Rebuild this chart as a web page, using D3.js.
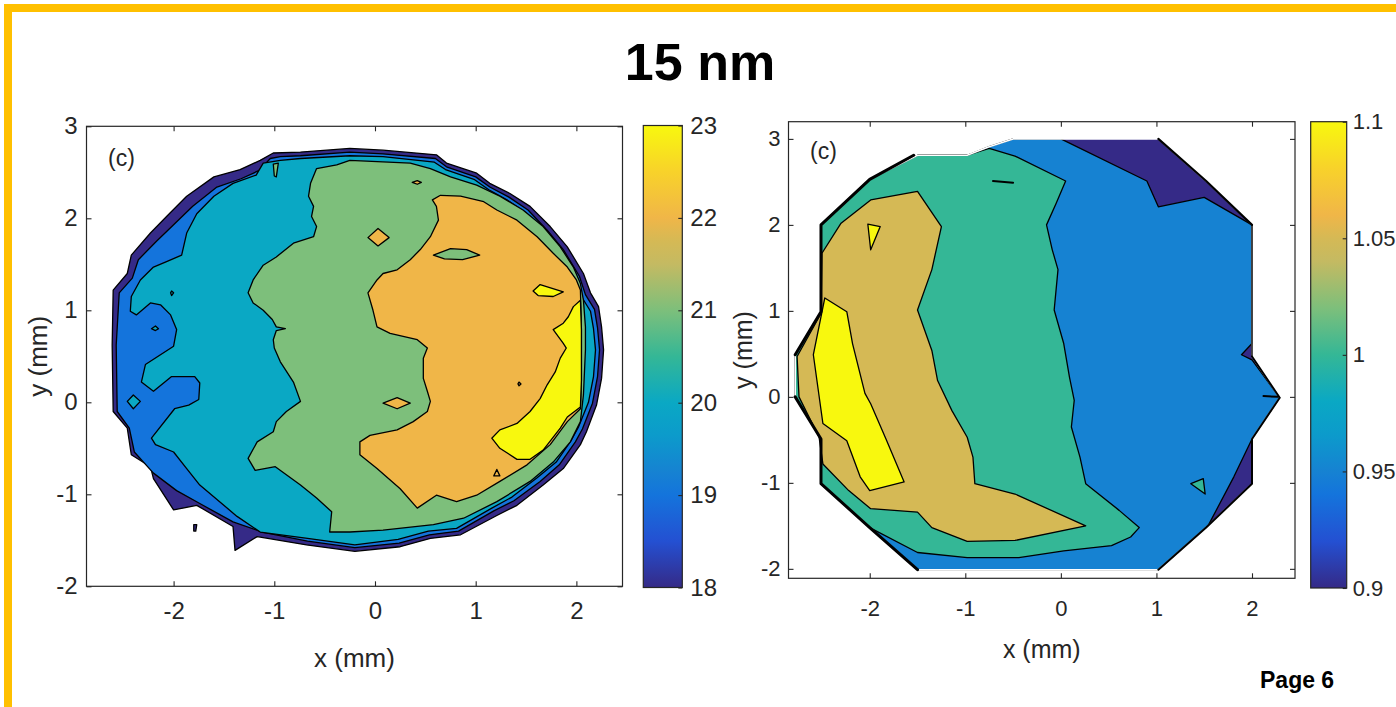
<!DOCTYPE html>
<html>
<head>
<meta charset="utf-8">
<script src="https://cdn.jsdelivr.net/npm/d3@7"></script>
<style>
  html, body { margin: 0; padding: 0; background: #ffffff; }
  svg { display: block; }
</style>
</head>
<body>
<svg id="chart" width="1396" height="707"></svg>
<script>
// ---------- tick values ----------
const xTicksLeft = [-2, -1, 0, 1, 2];
const yTicksLeft = [-2, -1, 0, 1, 2, 3];
const cTicksLeft = [18, 19, 20, 21, 22, 23];
const xTicksRight = [-2, -1, 0, 1, 2];
const yTicksRight = [-2, -1, 0, 1, 2, 3];
const cTicksRight = [0.9, 0.95, 1, 1.05, 1.1];

// ---------- left map: filled contour regions (x, y in mm), outermost first ----------
const left18 = [[-2.61,0.62],[-2.60,1.22],[-2.46,1.40],[-2.42,1.60],[-2.23,1.84],[-2.07,2.02],[-1.87,2.24],[-1.60,2.45],[-1.34,2.53],[-1.14,2.63],[-1.01,2.71],[-0.74,2.72],[-0.25,2.76],[0.08,2.74],[0.61,2.69],[0.71,2.60],[1.01,2.49],[1.14,2.38],[1.34,2.27],[1.54,2.13],[1.74,1.91],[1.91,1.69],[2.07,1.40],[2.14,1.19],[2.22,1.04],[2.25,0.82],[2.27,0.57],[2.25,0.26],[2.20,-0.03],[2.10,-0.32],[2.04,-0.46],[1.87,-0.72],[1.67,-0.90],[1.41,-1.12],[1.21,-1.23],[0.85,-1.44],[0.55,-1.48],[0.25,-1.57],[-0.20,-1.62],[-0.68,-1.55],[-1.17,-1.46],[-1.39,-1.61],[-1.41,-1.35],[-1.77,-1.12],[-2.00,-1.17],[-2.20,-0.83],[-2.23,-0.70],[-2.42,-0.57],[-2.46,-0.28],[-2.60,-0.10]];
const left19 = [[-2.57,0.62],[-2.54,1.19],[-2.41,1.35],[-2.35,1.55],[-2.17,1.75],[-2.00,1.93],[-1.81,2.13],[-1.57,2.34],[-1.33,2.43],[-1.15,2.52],[-1.04,2.65],[-0.94,2.67],[-0.74,2.68],[-0.25,2.72],[0.08,2.70],[0.60,2.65],[0.71,2.56],[1.00,2.45],[1.14,2.34],[1.33,2.23],[1.52,2.09],[1.71,1.87],[1.87,1.66],[2.03,1.37],[2.09,1.17],[2.18,1.01],[2.21,0.81],[2.23,0.57],[2.21,0.28],[2.16,-0.01],[2.06,-0.29],[1.99,-0.43],[1.83,-0.68],[1.64,-0.86],[1.38,-1.07],[1.18,-1.18],[0.83,-1.40],[0.54,-1.44],[0.24,-1.53],[-0.20,-1.58],[-0.67,-1.51],[-1.12,-1.41],[-1.41,-1.30],[-1.74,-1.10],[-1.97,-0.96],[-2.20,-0.77],[-2.39,-0.54],[-2.44,-0.28],[-2.56,-0.10]];
const left20 = [[-1.11,2.60],[-0.94,2.63],[-0.74,2.65],[-0.25,2.68],[0.08,2.67],[0.59,2.61],[0.70,2.53],[0.99,2.42],[1.13,2.31],[1.31,2.20],[1.50,2.06],[1.68,1.84],[1.84,1.62],[1.99,1.34],[2.05,1.15],[2.14,0.99],[2.17,0.80],[2.19,0.57],[2.17,0.28],[2.12,0.00],[2.02,-0.27],[1.95,-0.41],[1.80,-0.65],[1.61,-0.82],[1.36,-1.03],[1.16,-1.15],[0.81,-1.37],[0.53,-1.40],[0.23,-1.49],[-0.20,-1.55],[-0.67,-1.48],[-1.14,-1.41],[-1.37,-1.24],[-1.74,-0.90],[-1.87,-0.72],[-2.00,-0.54],[-2.18,-0.46],[-2.22,-0.39],[-1.99,-0.07],[-1.85,-0.03],[-1.75,0.03],[-1.74,0.21],[-1.79,0.28],[-2.02,0.28],[-2.20,0.12],[-2.32,0.22],[-2.28,0.41],[-2.00,0.61],[-1.97,0.79],[-2.03,0.95],[-2.13,1.06],[-2.23,1.08],[-2.37,0.95],[-2.43,0.99],[-2.42,1.15],[-2.33,1.33],[-2.20,1.47],[-2.07,1.53],[-1.92,1.60],[-1.87,1.84],[-1.77,2.05],[-1.60,2.24],[-1.41,2.38],[-1.18,2.47]];
const left21 = [[-0.58,2.54],[-0.38,2.58],[-0.25,2.63],[0.35,2.60],[0.55,2.54],[0.75,2.45],[1.01,2.36],[1.24,2.24],[1.47,2.09],[1.67,1.91],[1.84,1.69],[1.97,1.47],[2.04,1.29],[2.07,1.11],[2.09,0.82],[2.09,0.57],[2.07,0.08],[2.04,-0.21],[1.94,-0.43],[1.77,-0.65],[1.54,-0.86],[1.21,-1.08],[0.88,-1.26],[0.58,-1.33],[0.08,-1.39],[-0.25,-1.41],[-0.45,-1.41],[-0.43,-1.19],[-0.58,-1.04],[-0.74,-0.90],[-0.99,-0.70],[-1.19,-0.74],[-1.26,-0.61],[-1.17,-0.43],[-1.01,-0.32],[-0.98,-0.21],[-0.88,-0.10],[-0.74,0.01],[-0.81,0.22],[-0.94,0.44],[-1.00,0.59],[-1.01,0.68],[-0.98,0.78],[-0.89,0.80],[-0.98,0.82],[-1.02,0.90],[-1.11,1.00],[-1.21,1.08],[-1.26,1.19],[-1.21,1.33],[-1.11,1.49],[-0.98,1.58],[-0.81,1.73],[-0.61,1.80],[-0.58,1.91],[-0.63,2.02],[-0.61,2.13],[-0.66,2.24],[-0.64,2.38]];
const left22 = [[0.57,2.20],[0.65,2.25],[0.85,2.24],[1.08,2.18],[1.21,2.09],[1.41,1.98],[1.61,1.80],[1.77,1.62],[1.91,1.47],[2.00,1.33],[2.04,1.22],[2.05,0.79],[2.05,0.24],[2.04,-0.07],[1.91,-0.21],[1.74,-0.46],[1.51,-0.68],[1.24,-0.86],[1.01,-1.01],[0.81,-1.08],[0.61,-1.01],[0.42,-1.15],[0.25,-0.94],[0.02,-0.72],[-0.15,-0.57],[-0.15,-0.43],[-0.05,-0.36],[0.22,-0.30],[0.38,-0.21],[0.52,-0.10],[0.55,0.01],[0.52,0.12],[0.48,0.26],[0.48,0.48],[0.52,0.59],[0.42,0.68],[0.15,0.75],[0.02,0.82],[-0.02,1.00],[-0.07,1.19],[0.02,1.33],[0.08,1.40],[0.22,1.44],[0.35,1.55],[0.45,1.66],[0.55,1.80],[0.63,1.98],[0.61,2.13]];
const left23 = [[2.04,1.11],[1.97,1.04],[1.92,0.93],[1.87,0.86],[1.77,0.79],[1.87,0.64],[1.90,0.59],[1.84,0.48],[1.79,0.33],[1.71,0.19],[1.64,0.04],[1.54,-0.10],[1.41,-0.23],[1.24,-0.30],[1.16,-0.39],[1.24,-0.50],[1.41,-0.62],[1.54,-0.62],[1.67,-0.52],[1.84,-0.28],[1.91,-0.16],[2.04,-0.05],[2.05,0.24],[2.05,0.79]];
// small closed contours
const left22Diamond = [[-0.07,1.79],[0.03,1.89],[0.14,1.79],[0.03,1.70]];
const left21Lens = [[0.58,1.60],[0.75,1.67],[0.91,1.66],[1.04,1.60],[0.87,1.55],[0.69,1.56]];
const left23Spot = [[1.57,1.21],[1.64,1.28],[1.87,1.20],[1.77,1.15],[1.62,1.16]];
const left22DiamondLow = [[0.08,-0.01],[0.22,0.05],[0.35,-0.01],[0.22,-0.07]];
const left22Top = [[0.37,2.39],[0.42,2.41],[0.46,2.39],[0.42,2.37]];
const left22Dot = [[1.42,0.20],[1.43,0.22],[1.45,0.20],[1.43,0.18]];
const left22Tri = [[1.18,-0.80],[1.21,-0.73],[1.24,-0.80]];
const left20Diamond = [[-2.46,0.01],[-2.40,0.08],[-2.33,0.01],[-2.40,-0.07]];
const left20LoopA = [[-2.03,1.19],[-2.02,1.21],[-2.00,1.19],[-2.02,1.16]];
const left20LoopB = [[-2.22,0.80],[-2.18,0.83],[-2.15,0.80],[-2.18,0.78]];
const left21Sliver = [[-1.01,2.59],[-0.96,2.60],[-0.98,2.45],[-1.00,2.46]];
const left18Speck = [[-1.80,-1.33],[-1.77,-1.33],[-1.78,-1.40],[-1.80,-1.40]];

// ---------- right map: filled contour regions (x, y in mm), outermost first ----------
const right090 = [[-2.51,2.00],[-2.00,2.53],[-1.50,2.81],[-0.98,2.81],[-0.75,2.91],[-0.50,3.00],[1.02,3.00],[1.52,2.51],[2.00,2.00],[2.00,0.47],[2.29,-0.01],[2.00,-0.49],[2.00,-1.01],[1.52,-1.52],[1.02,-2.01],[-1.50,-2.01],[-2.00,-1.52],[-2.51,-1.01],[-2.51,-0.49],[-2.78,0.00],[-2.78,0.49],[-2.51,0.99]];
const right095 = [[-2.51,2.00],[-2.00,2.53],[-1.50,2.81],[-0.98,2.81],[-0.75,2.91],[-0.50,3.00],[0.00,3.00],[0.90,2.51],[1.02,2.21],[1.50,2.32],[2.00,2.00],[2.00,0.62],[1.89,0.49],[2.00,0.43],[2.29,-0.01],[2.00,-0.49],[1.81,-0.93],[1.54,-1.50],[1.52,-1.52],[1.02,-2.01],[-1.50,-2.01],[-2.00,-1.52],[-2.51,-1.01],[-2.51,-0.49],[-2.78,0.00],[-2.78,0.49],[-2.51,0.99]];
const right100 = [[-1.50,2.81],[-0.98,2.81],[-0.75,2.89],[-0.48,2.80],[0.05,2.51],[-0.05,2.25],[-0.15,2.00],[-0.09,1.71],[-0.03,1.48],[-0.07,1.01],[0.03,0.62],[0.09,0.23],[0.14,-0.04],[0.11,-0.35],[0.20,-0.70],[0.26,-1.01],[0.61,-1.32],[0.82,-1.52],[0.73,-1.63],[0.53,-1.73],[0.03,-1.79],[-0.44,-1.87],[-0.98,-1.87],[-1.50,-1.81],[-2.00,-1.52],[-2.51,-1.01],[-2.51,-0.49],[-2.78,0.00],[-2.78,0.49],[-2.51,0.99],[-2.51,2.00],[-2.00,2.53]];
const right105 = [[-1.99,2.29],[-1.50,2.39],[-1.25,1.98],[-1.35,1.48],[-1.50,1.01],[-1.35,0.54],[-1.29,0.19],[-1.14,-0.16],[-0.98,-0.47],[-0.92,-0.70],[-0.90,-1.01],[-0.48,-1.13],[0.26,-1.50],[-0.48,-1.67],[-0.98,-1.68],[-1.35,-1.52],[-1.50,-1.34],[-1.99,-1.30],[-2.22,-1.09],[-2.49,-0.78],[-2.53,-0.47],[-2.74,0.00],[-2.76,0.47],[-2.51,0.97],[-2.50,1.67],[-2.30,2.02]];
const right110 = [[-2.47,1.15],[-2.24,0.99],[-2.18,0.62],[-2.05,0.04],[-1.99,-0.08],[-1.83,-0.49],[-1.64,-0.99],[-2.00,-1.09],[-2.10,-0.93],[-2.24,-0.51],[-2.49,-0.31],[-2.59,0.49]];
const right110Spot = [[-2.02,2.01],[-1.89,1.98],[-1.99,1.71]];
const right100Spot = [[1.36,-1.01],[1.49,-0.95],[1.51,-1.13]];
// short open contour pieces
const rightDashTop = [[-0.71,2.51],[-0.50,2.49]];
const rightDashRight = [[2.12,0.01],[2.27,0.00]];
// contour lines that run along the edge of the measured area
const rightRimUpperLeft = [[-1.54,2.81],[-2.00,2.53],[-2.51,2.00],[-2.51,0.99],[-2.78,0.49]];
const rightRimLowerLeft = [[-2.78,0.00],[-2.51,-0.49],[-2.51,-1.01],[-2.00,-1.52],[-1.50,-2.01]];
const rightRimUpperRight = [[1.02,3.00],[1.52,2.51],[2.00,2.00]];
const rightRimMidRight = [[2.00,2.00],[2.00,0.47]];
const rightRimLowerRight = [[2.00,0.47],[2.29,-0.01],[2.00,-0.49],[2.00,-1.01],[1.52,-1.52],[1.02,-2.01]];

// ---------- colour map (fraction of colour range -> colour) ----------
const colorStops = [0, 0.1, 0.2, 0.25, 0.33, 0.4, 0.5, 0.6, 0.7, 0.75, 0.8, 0.9, 1];
const colorHex = ["#352A87", "#2450D2", "#1474DC", "#1682D2", "#0C9BCB", "#0AA8C4", "#34B796", "#7DBF7B", "#C4BA62", "#D5B955", "#F0B648", "#F8D22A", "#F8F80E"];

const FONT = '"Liberation Sans", Arial, Helvetica, sans-serif';
const INK = "#262626";
const svg = d3.select("#chart");
const defs = svg.append("defs");
const cmap = d3.scaleLinear().domain(colorStops).range(colorHex).interpolate(d3.interpolateRgb).clamp(true);

// slide frame
svg.append("rect").attr("x", 4).attr("y", 4).attr("width", 1392).attr("height", 8).attr("fill", "#FFC000");
svg.append("rect").attr("x", 4).attr("y", 4).attr("width", 8).attr("height", 703).attr("fill", "#FFC000");

svg.append("text").attr("x", 700).attr("y", 80).attr("text-anchor", "middle")
  .attr("font-family", FONT).attr("font-weight", "bold").attr("font-size", 52).attr("fill", "#000")
  .text("15 nm");
svg.append("text").attr("x", 1260).attr("y", 688)
  .attr("font-family", FONT).attr("font-weight", "bold").attr("font-size", 23).attr("fill", "#000")
  .text("Page 6");

function styleAxis(sel, fs) {
  sel.select(".domain").remove();
  sel.attr("font-family", FONT).attr("font-size", fs);
  sel.selectAll(".tick line").attr("stroke", INK).attr("stroke-width", 1.1);
  sel.selectAll(".tick text").attr("fill", INK);
}

function panel(cfg) {
  const x = d3.scaleLinear().domain(cfg.xDomain).range(cfg.xRange);
  const y = d3.scaleLinear().domain(cfg.yDomain).range(cfg.yRange);
  const frac = v => (v - cfg.cDomain[0]) / (cfg.cDomain[1] - cfg.cDomain[0]);
  const ring = d3.line().x(p => x(p[0])).y(p => y(p[1])).curve(d3.curveLinearClosed);
  const open = d3.line().x(p => x(p[0])).y(p => y(p[1]));
  const g = svg.append("g");

  // filled levels
  g.append("g").selectAll("path").data(cfg.regions).join("path")
    .attr("d", d => ring(d.pts))
    .attr("fill", d => cmap(frac(d.level)))
    .attr("stroke", cfg.edgeRims ? "none" : "#000")
    .attr("stroke-width", 1.3)
    .attr("stroke-linejoin", "round");

  if (cfg.edgeRims) {
    // contour lines inside the measured area
    g.append("g").selectAll("path").data(cfg.regions.slice(1)).join("path")
      .attr("d", d => ring(d.pts)).attr("fill", "none")
      .attr("stroke", "#000").attr("stroke-width", 1.3).attr("stroke-linejoin", "round");
    // the outline of the measured area carries no line of its own
    g.append("path").attr("d", ring(cfg.regions[0].pts)).attr("fill", "none")
      .attr("stroke", "#fff").attr("stroke-width", 1.6).attr("stroke-linejoin", "round");
    g.append("g").selectAll("path").data(cfg.edgeRims).join("path")
      .attr("d", d => open(d.pts)).attr("fill", "none")
      .attr("stroke", "#000").attr("stroke-width", d => d.w)
      .attr("stroke-linejoin", "round").attr("stroke-linecap", "round");
  }
  if (cfg.dashes) {
    g.append("g").selectAll("path").data(cfg.dashes).join("path")
      .attr("d", d => open(d)).attr("fill", "none")
      .attr("stroke", "#000").attr("stroke-width", 2).attr("stroke-linecap", "round");
  }

  // axes box with inward ticks on all sides
  const [xl, xr] = cfg.xRange;
  const [yb, yt] = cfg.yRange;
  const blank = () => "";
  const label = d => String(d);
  g.append("g").attr("transform", `translate(0,${yb})`)
    .call(d3.axisBottom(x).tickValues(cfg.xTicks).tickSizeInner(-5).tickSizeOuter(0).tickPadding(cfg.xPad).tickFormat(label))
    .call(styleAxis, cfg.tickFs);
  g.append("g").attr("transform", `translate(0,${yt})`)
    .call(d3.axisTop(x).tickValues(cfg.xTicks).tickSizeInner(-5).tickSizeOuter(0).tickFormat(blank))
    .call(styleAxis, cfg.tickFs);
  g.append("g").attr("transform", `translate(${xl},0)`)
    .call(d3.axisLeft(y).tickValues(cfg.yTicks).tickSizeInner(-5).tickSizeOuter(0).tickPadding(cfg.yPad).tickFormat(label))
    .call(styleAxis, cfg.tickFs);
  g.append("g").attr("transform", `translate(${xr},0)`)
    .call(d3.axisRight(y).tickValues(cfg.yTicks).tickSizeInner(-5).tickSizeOuter(0).tickFormat(blank))
    .call(styleAxis, cfg.tickFs);
  g.append("rect").attr("x", xl).attr("y", yt).attr("width", xr - xl).attr("height", yb - yt)
    .attr("fill", "none").attr("stroke", INK).attr("stroke-width", 1.2);

  // axis titles and panel tag
  g.append("text").attr("x", (xl + xr) / 2).attr("y", cfg.xLabelY).attr("text-anchor", "middle")
    .attr("font-family", FONT).attr("font-size", cfg.labelFs).attr("fill", INK).text("x (mm)");
  g.append("text").attr("transform", `translate(${cfg.yLabelX},${(yt + yb) / 2}) rotate(-90)`)
    .attr("text-anchor", "middle")
    .attr("font-family", FONT).attr("font-size", cfg.labelFs).attr("fill", INK).text("y (mm)");
  g.append("text").attr("x", cfg.tag[0]).attr("y", cfg.tag[1])
    .attr("font-family", FONT).attr("font-size", cfg.tagFs).attr("fill", INK).text("(c)");

  // colour bar
  const cb = cfg.cbar;
  const grad = defs.append("linearGradient").attr("id", cfg.id)
    .attr("x1", 0).attr("y1", 1).attr("x2", 0).attr("y2", 0);
  grad.selectAll("stop").data(colorStops).join("stop")
    .attr("offset", d => d).attr("stop-color", (d, i) => colorHex[i]);
  const cy = d3.scaleLinear().domain(cfg.cDomain).range([cb.yBot, cb.yTop]);
  g.append("rect").attr("x", cb.x0).attr("y", cb.yTop).attr("width", cb.x1 - cb.x0).attr("height", cb.yBot - cb.yTop)
    .attr("fill", `url(#${cfg.id})`).attr("stroke", INK).attr("stroke-width", 1.2);
  g.append("g").attr("transform", `translate(${cb.x1},0)`)
    .call(d3.axisRight(cy).tickValues(cfg.cTicks).tickSizeInner(-4).tickSizeOuter(0).tickPadding(cfg.cPad)
      .tickFormat(d => String(+d.toFixed(2))))
    .call(styleAxis, cfg.cFs);
}

panel({
  id: "cbarLeft",
  regions: [
    { level: 18, pts: left18 }, { level: 19, pts: left19 }, { level: 20, pts: left20 },
    { level: 21, pts: left21 }, { level: 22, pts: left22 }, { level: 23, pts: left23 },
    { level: 22, pts: left22Diamond }, { level: 21, pts: left21Lens }, { level: 23, pts: left23Spot },
    { level: 22, pts: left22DiamondLow }, { level: 22, pts: left22Top }, { level: 22, pts: left22Dot },
    { level: 22, pts: left22Tri }, { level: 20, pts: left20Diamond }, { level: 20, pts: left20LoopA },
    { level: 20, pts: left20LoopB }, { level: 21, pts: left21Sliver }, { level: 18, pts: left18Speck }
  ],
  xDomain: [-2.865, 2.458], xRange: [86.5, 622.5],
  yDomain: [-2, 3], yRange: [586.3, 126.3],
  cDomain: [18, 23], cbar: { x0: 643.3, x1: 682.3, yTop: 125.5, yBot: 587.5 },
  xTicks: xTicksLeft, yTicks: yTicksLeft, cTicks: cTicksLeft,
  tickFs: 24, xPad: 16, yPad: 9, cFs: 24, cPad: 8,
  labelFs: 26, xLabelY: 667, yLabelX: 47,
  tag: [108, 166], tagFs: 23
});

panel({
  id: "cbarRight",
  regions: [
    { level: 0.9, pts: right090 }, { level: 0.95, pts: right095 }, { level: 1.0, pts: right100 },
    { level: 1.05, pts: right105 }, { level: 1.1, pts: right110 },
    { level: 1.1, pts: right110Spot }, { level: 1.0, pts: right100Spot }
  ],
  edgeRims: [
    { pts: rightRimUpperLeft, w: 3 }, { pts: rightRimLowerLeft, w: 3 },
    { pts: rightRimUpperRight, w: 2.2 }, { pts: rightRimMidRight, w: 1.4 }, { pts: rightRimLowerRight, w: 2 }
  ],
  dashes: [rightDashTop, rightDashRight],
  xDomain: [-2.85, 2.45], xRange: [788.5, 1295],
  yDomain: [-2.11, 3.2], yRange: [578.3, 121.7],
  cDomain: [0.9, 1.1], cbar: { x0: 1310.7, x1: 1346.7, yTop: 121.7, yBot: 588 },
  xTicks: xTicksRight, yTicks: yTicksRight, cTicks: cTicksRight,
  tickFs: 22, xPad: 22, yPad: 8, cFs: 22, cPad: 6,
  labelFs: 25, xLabelY: 658, yLabelX: 752,
  tag: [810, 159], tagFs: 23
});
</script>
</body>
</html>
